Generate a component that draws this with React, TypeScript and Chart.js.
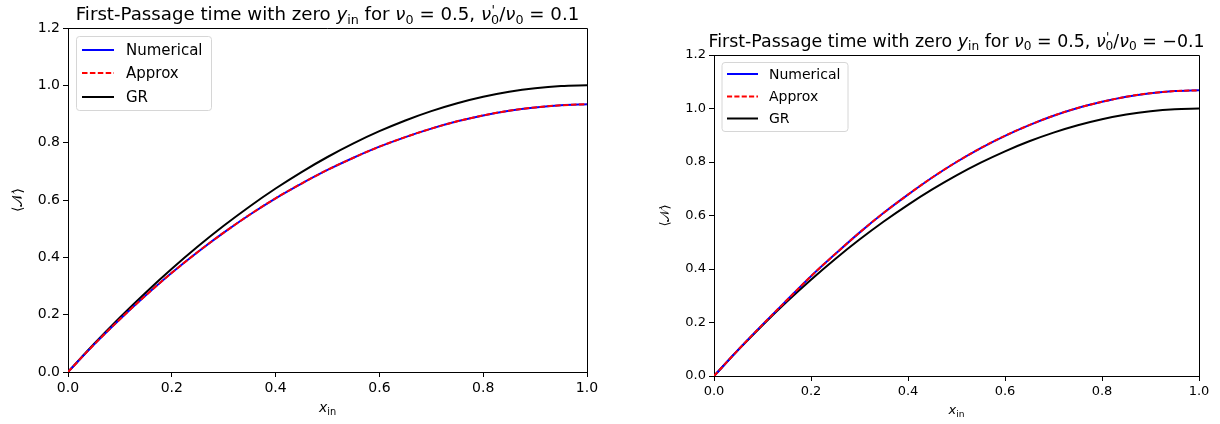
import React, { useEffect, useRef } from 'react';
import { Chart, registerables } from 'chart.js';
Chart.register(...registerables);

const FONT = "'DejaVu Sans', 'Liberation Sans', sans-serif";

// ---- data ----
const xIn = [0, 0.05, 0.1, 0.15, 0.2, 0.25, 0.3, 0.35, 0.4, 0.45, 0.5, 0.55, 0.6, 0.65, 0.7, 0.75, 0.8, 0.85, 0.9, 0.95, 1.0];

const numericalLeft = [0, 0.0955, 0.184, 0.2675, 0.346, 0.4185, 0.486, 0.5485, 0.606, 0.6575, 0.705, 0.7475, 0.786, 0.8195, 0.849, 0.8745, 0.895, 0.9115, 0.923, 0.9305, 0.934];
const approxLeft = [0, 0.0955, 0.184, 0.2675, 0.346, 0.4185, 0.486, 0.5485, 0.606, 0.6575, 0.705, 0.7475, 0.786, 0.8195, 0.849, 0.8745, 0.895, 0.9115, 0.923, 0.9305, 0.934];
const grLeft = [0, 0.0975, 0.19, 0.2775, 0.36, 0.4375, 0.51, 0.5775, 0.64, 0.6975, 0.75, 0.7975, 0.84, 0.8775, 0.91, 0.9375, 0.96, 0.9775, 0.99, 0.9975, 1.0];

const numericalRight = [0, 0.098, 0.192, 0.283, 0.373, 0.456, 0.536, 0.61, 0.678, 0.742, 0.8, 0.852, 0.898, 0.938, 0.973, 1.002, 1.025, 1.044, 1.057, 1.065, 1.068];
const approxRight = [0, 0.098, 0.192, 0.283, 0.373, 0.456, 0.536, 0.61, 0.678, 0.742, 0.8, 0.852, 0.898, 0.938, 0.973, 1.002, 1.025, 1.044, 1.057, 1.065, 1.068];
const grRight = [0, 0.0975, 0.19, 0.2775, 0.36, 0.4375, 0.51, 0.5775, 0.64, 0.6975, 0.75, 0.7975, 0.84, 0.8775, 0.91, 0.9375, 0.96, 0.9775, 0.99, 0.9975, 1.0];

const seriesLabels = ['Numerical', 'Approx', 'GR'];
const ratioLeft = '0.1';
const ratioRight = '\u22120.1';

type Seg = { t: string; it?: boolean; sub?: boolean; prime?: boolean; subUnder?: string };

function titleSegs(ratio: string): Seg[] {
  return [
    { t: 'First-Passage time with zero ' },
    { t: 'y', it: true },
    { t: 'in', sub: true },
    { t: ' for ' },
    { t: '\u03bd', it: true },
    { t: '0', sub: true },
    { t: ' = 0.5, ' },
    { t: '\u03bd', it: true },
    { t: "'", it: true, prime: true, subUnder: '0' },
    { t: '/' },
    { t: '\u03bd', it: true },
    { t: '0', sub: true },
    { t: ' = ' + ratio },
  ];
}

const xLabelSegs: Seg[] = [{ t: 'x', it: true }, { t: 'in', sub: true }];
const yLabelSegs: Seg[] = [{ t: '\u27e8' }, { t: '\ud835\udca9' }, { t: '\u27e9' }];

function fontOf(size: number, it?: boolean, small?: boolean) {
  return `${it ? 'italic ' : ''}${small ? size * 0.7 : size}px ${FONT}`;
}

function segWidth(ctx: CanvasRenderingContext2D, s: Seg, size: number) {
  ctx.font = fontOf(size, s.it, s.sub || s.prime);
  let w = ctx.measureText(s.t).width;
  if (s.subUnder) {
    ctx.font = fontOf(size, false, true);
    w = Math.max(w, ctx.measureText(s.subUnder).width);
  }
  return w;
}

function measureSegs(ctx: CanvasRenderingContext2D, segs: Seg[], size: number) {
  let w = 0;
  for (const s of segs) w += segWidth(ctx, s, size);
  return w;
}

function drawSegs(ctx: CanvasRenderingContext2D, segs: Seg[], x: number, y: number, size: number) {
  ctx.textBaseline = 'alphabetic';
  ctx.textAlign = 'left';
  for (const s of segs) {
    const w = segWidth(ctx, s, size);
    ctx.font = fontOf(size, s.it, s.sub || s.prime);
    let dy = 0;
    let dx = 0;
    if (s.sub) dy = 0.22 * size;
    if (s.prime) { dy = -0.32 * size; dx = 0.5; }
    ctx.fillText(s.t, x + dx, y + dy);
    if (s.subUnder) {
      ctx.font = fontOf(size, false, true);
      ctx.fillText(s.subUnder, x, y + 0.22 * size);
    }
    x += w;
  }
}

type PanelCfg = {
  area: { left: number; right: number; top: number; bottom: number };
  titleSize: number;
  tickSize: number;
  legendSize: number;
  labelSize: number;
  dashScale: number;
  titleY: number;
  xLabelY: number;
  yLabelX: number;
  ratio: string;
  numerical: number[];
  approx: number[];
  gr: number[];
  legend: { dx: number; dy: number; w: number; h: number; lineX0: number; lineX1: number; textX: number; rows: number[] };
};

const W = 610;
const H = 424;

const leftCfg: PanelCfg = {
  area: { left: 68, right: 587, top: 28, bottom: 372 },
  titleSize: 18.2,
  tickSize: 14,
  legendSize: 15,
  labelSize: 14,
  dashScale: 1,
  titleY: 19.5,
  xLabelY: 412,
  yLabelX: 17,
  ratio: ratioLeft,
  numerical: numericalLeft,
  approx: approxLeft,
  gr: grLeft,
  legend: { dx: 8.5, dy: 8.5, w: 135, h: 74, lineX0: 14, lineX1: 46, textX: 58, rows: [22, 45, 69] },
};

const rightCfg: PanelCfg = {
  area: { left: 104, right: 589, top: 55, bottom: 376 },
  titleSize: 17.4,
  tickSize: 13,
  legendSize: 14,
  labelSize: 13,
  dashScale: 0.93,
  titleY: 46.5,
  xLabelY: 414,
  yLabelX: 54,
  ratio: ratioRight,
  numerical: numericalRight,
  approx: approxRight,
  gr: grRight,
  legend: { dx: 8, dy: 7.5, w: 126, h: 69, lineX0: 13, lineX1: 44, textX: 55, rows: [19, 41.5, 63.5] },
};

function makeDecor(cfg: PanelCfg) {
  return {
    id: 'decor',
    afterDraw(chart: any) {
      const ctx: CanvasRenderingContext2D = chart.ctx;
      const a = chart.chartArea;
      ctx.save();
      // top & right spines
      ctx.strokeStyle = '#000';
      ctx.lineWidth = 1;
      ctx.beginPath();
      const t = Math.round(a.top - 0.5) + 0.5;
      const r = Math.round(a.right - 0.5) + 0.5;
      ctx.moveTo(a.left, t);
      ctx.lineTo(r, t);
      ctx.lineTo(r, a.bottom);
      ctx.stroke();

      ctx.fillStyle = '#000';
      // title
      const ts = cfg.titleSize;
      const segs = titleSegs(cfg.ratio);
      const tw = measureSegs(ctx, segs, ts);
      const cx = (a.left + a.right) / 2;
      drawSegs(ctx, segs, cx - tw / 2, cfg.titleY, ts);

      // x label
      const ls = cfg.labelSize;
      const xw = measureSegs(ctx, xLabelSegs, ls);
      drawSegs(ctx, xLabelSegs, cx - xw / 2, cfg.xLabelY, ls);

      // y label
      const cy = (a.top + a.bottom) / 2;
      ctx.save();
      ctx.translate(cfg.yLabelX, cy);
      ctx.rotate(-Math.PI / 2);
      const yw = measureSegs(ctx, yLabelSegs, ls);
      drawSegs(ctx, yLabelSegs, -yw / 2, ls * 0.36, ls);
      ctx.restore();

      // legend
      const L = cfg.legend;
      const bx = a.left + L.dx;
      const by = a.top + L.dy;
      const rad = 3;
      ctx.beginPath();
      ctx.moveTo(bx + rad, by);
      ctx.arcTo(bx + L.w, by, bx + L.w, by + L.h, rad);
      ctx.arcTo(bx + L.w, by + L.h, bx, by + L.h, rad);
      ctx.arcTo(bx, by + L.h, bx, by, rad);
      ctx.arcTo(bx, by, bx + L.w, by, rad);
      ctx.closePath();
      ctx.fillStyle = 'rgba(255,255,255,0.8)';
      ctx.fill();
      ctx.strokeStyle = '#d6d6d6';
      ctx.lineWidth = 1;
      ctx.stroke();

      const k = cfg.dashScale;
      const styles = [
        { c: '#0000ff', d: [] as number[] },
        { c: '#ff0000', d: [5.5 * k, 2.4 * k] },
        { c: '#000000', d: [] as number[] },
      ];
      seriesLabels.forEach((lab, i) => {
        const y = a.top + L.rows[i];
        ctx.beginPath();
        ctx.setLineDash(styles[i].d);
        ctx.strokeStyle = styles[i].c;
        ctx.lineWidth = 2;
        ctx.moveTo(a.left + L.lineX0, y);
        ctx.lineTo(a.left + L.lineX1, y);
        ctx.stroke();
        ctx.setLineDash([]);
        ctx.fillStyle = '#000';
        ctx.font = `${cfg.legendSize}px ${FONT}`;
        ctx.textBaseline = 'middle';
        ctx.textAlign = 'left';
        ctx.fillText(lab, a.left + L.textX, y + 1);
      });
      ctx.restore();
    },
  };
}

function pts(ys: number[]) {
  return xIn.map((x, i) => ({ x, y: ys[i] }));
}

function Panel({ cfg, left }: { cfg: PanelCfg; left: number }) {
  const ref = useRef<HTMLCanvasElement>(null);
  useEffect(() => {
    if (!ref.current) return;
    const a = cfg.area;
    const k = cfg.dashScale;
    const tickFont = { family: FONT, size: cfg.tickSize };
    const chart = new Chart(ref.current, {
      type: 'line',
      data: {
        datasets: [
          { label: 'Approx', data: pts(cfg.approx), borderColor: '#ff0000', borderDash: [5.5 * k, 2.4 * k], borderWidth: 2, pointRadius: 0, fill: false, order: 0 },
          { label: 'Numerical', data: pts(cfg.numerical), borderColor: '#0000ff', borderWidth: 2, pointRadius: 0, fill: false, order: 1 },
          { label: 'GR', data: pts(cfg.gr), borderColor: '#000000', borderWidth: 2, pointRadius: 0, fill: false, order: 2 },
        ],
      },
      options: {
        responsive: false,
        animation: false,
        devicePixelRatio: 1,
        events: [],
        layout: { padding: { top: a.top, right: W - a.right, bottom: 0, left: 0 } },
        elements: { line: { cubicInterpolationMode: 'monotone' } },
        plugins: { legend: { display: false }, tooltip: { enabled: false }, title: { display: false } },
        scales: {
          x: {
            type: 'linear',
            min: 0,
            max: 1,
            ticks: { stepSize: 0.2, color: '#000', font: tickFont, padding: 3, maxRotation: 0, autoSkip: false, callback: (v: any) => Number(v).toFixed(1) },
            grid: { display: true, drawOnChartArea: false, drawTicks: true, tickLength: 5, color: '#000', lineWidth: 1 },
            border: { display: true, color: '#000', width: 1 },
            afterFit: (s: any) => { s.height = H - a.bottom; },
          },
          y: {
            type: 'linear',
            min: 0,
            max: 1.2,
            ticks: { stepSize: 0.2, color: '#000', font: tickFont, padding: 3, autoSkip: false, callback: (v: any) => Number(v).toFixed(1) },
            grid: { display: true, drawOnChartArea: false, drawTicks: true, tickLength: 5, color: '#000', lineWidth: 1 },
            border: { display: true, color: '#000', width: 1 },
            afterFit: (s: any) => { s.width = a.left; },
          },
        },
      } as any,
      plugins: [makeDecor(cfg)],
    });
    return () => chart.destroy();
  }, []);
  return <canvas ref={ref} width={W} height={H} style={{ position: 'absolute', left, top: 0, width: W, height: H }} />;
}

export default function App() {
  return (
    <div style={{ position: 'absolute', left: 0, top: 0, width: 1220, height: 424, background: '#fff' }}>
      <Panel cfg={leftCfg} left={0} />
      <Panel cfg={rightCfg} left={610} />
    </div>
  );
}
